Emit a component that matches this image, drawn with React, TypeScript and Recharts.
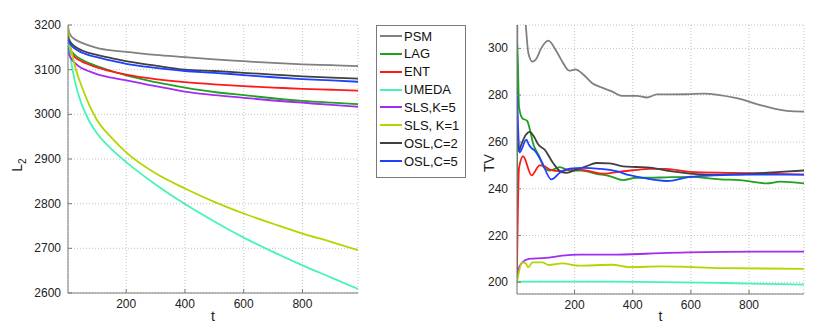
import React from "react"
import { LineChart, Line, XAxis, YAxis, CartesianGrid } from "recharts"

// ---- left panel: L2 error vs t (shared t grid) ----
const T_L2 = [2, 3, 5, 10, 25, 50, 75, 100, 150, 200, 300, 400, 500, 600, 700, 800, 900, 989]
const L2_PSM = [3198, 3193, 3186, 3178, 3168, 3160, 3154, 3149, 3143, 3140, 3133, 3128, 3123, 3119, 3115, 3112, 3110, 3108]
const L2_LAG = [3165, 3158, 3152, 3145, 3133, 3122, 3114, 3108, 3097, 3087, 3072, 3060, 3050, 3043, 3036, 3030, 3026, 3023]
const L2_ENT = [3160, 3153, 3146, 3140, 3128, 3118, 3111, 3105, 3096, 3089, 3079, 3072, 3067, 3063, 3060, 3057, 3055, 3053]
const L2_UMEDA = [3183, 3172, 3155, 3130, 3075, 3020, 2984, 2958, 2922, 2893, 2843, 2799, 2760, 2724, 2692, 2662, 2634, 2609]
const L2_SLS5 = [3150, 3143, 3136, 3128, 3115, 3103, 3096, 3090, 3082, 3076, 3063, 3051, 3043, 3037, 3031, 3026, 3021, 3017]
const L2_SLS1 = [3198, 3190, 3176, 3155, 3110, 3060, 3020, 2988, 2948, 2915, 2868, 2834, 2804, 2778, 2755, 2733, 2714, 2696]
const L2_OSL2 = [3175, 3172, 3168, 3162, 3152, 3143, 3137, 3133, 3126, 3119, 3109, 3100, 3097, 3093, 3089, 3085, 3082, 3080]
const L2_OSL5 = [3170, 3167, 3162, 3157, 3147, 3138, 3132, 3128, 3120, 3113, 3104, 3097, 3093, 3088, 3083, 3079, 3076, 3073]

// ---- right panel: TV vs t, [t, value] per series ----
const TV_PSM = [[2, 200], [4, 340], [20, 325], [32, 310], [41, 298], [55, 294.3], [68, 295.5], [85, 300], [110, 303.3], [135, 299.3], [158, 294.3], [181, 290.5], [204, 291], [226, 289.3], [261, 285.1], [295, 283.2], [330, 281.5], [364, 279.7], [414, 279.7], [449, 279], [483, 280.3], [586, 280.4], [643, 280.7], [758, 278.7], [850, 275.4], [930, 273.3], [989, 273]]
const TV_LAG = [[2, 200], [3, 302], [9, 275], [20, 270.2], [37, 269], [49, 263.8], [57, 259.5], [66, 256.7], [78, 254], [95, 249], [115, 247.8], [149, 249.2], [183, 247.8], [223, 247.8], [275, 246.4], [321, 245.4], [367, 243.7], [412, 244.7], [458, 244.7], [515, 244.9], [597, 245.1], [700, 244], [769, 243.7], [861, 242.3], [907, 243], [989, 242.3]]
const TV_ENT = [[2, 205], [9, 248.9], [23, 253.9], [52, 245.7], [80, 250], [97, 249.6], [115, 248.2], [149, 247.5], [195, 248.5], [252, 247.5], [298, 246.4], [344, 247.1], [401, 247.9], [458, 248.5], [515, 248.5], [597, 247.2], [735, 246.8], [861, 246.5], [989, 246]]
const TV_UMEDA = [[2, 200.3], [300, 200.3], [501, 200.1], [706, 199.7], [989, 199]]
const TV_SLS5 = [[2, 203], [4, 204.3], [20, 208.5], [43, 210], [100, 210.4], [158, 211.4], [215, 211.8], [330, 211.8], [444, 212.2], [501, 212.5], [592, 212.8], [821, 213.1], [989, 213.1]]
const TV_SLS1 = [[2, 200], [4, 201.4], [20, 208.5], [32, 208.1], [41, 206.4], [55, 208.5], [89, 208.5], [112, 207.4], [158, 208.1], [215, 207.1], [330, 207.5], [387, 206.5], [501, 206.8], [706, 206.1], [989, 205.7]]
const TV_OSL2 = [[2, 268], [8, 256], [17, 259], [32, 263], [46, 264.3], [63, 261.7], [74, 259.1], [97, 256.7], [126, 251], [155, 247.1], [172, 246.8], [206, 248.2], [240, 249.6], [275, 251], [321, 250.8], [367, 249.6], [412, 249.3], [460, 249], [529, 247.5], [597, 246.5], [666, 246], [735, 246.1], [803, 246.4], [895, 247.1], [989, 247.8]]
const TV_OSL5 = [[2, 282], [11, 255.5], [34, 261], [43, 258.8], [52, 257.4], [63, 256.3], [86, 251.8], [120, 244], [149, 246.8], [183, 248.6], [229, 248.9], [286, 248.5], [344, 247.5], [389, 245.8], [447, 244.4], [481, 243.7], [517, 243.3], [597, 245.1], [678, 245.7], [803, 246], [989, 246]]

const X_TICKS = [200, 400, 600, 800]
const L2_TICKS = [2600, 2700, 2800, 2900, 3000, 3100, 3200]
const TV_TICKS = [200, 220, 240, 260, 280, 300]

const SERIES = [
  { key: "PSM", name: "PSM", color: "#808080", l2: L2_PSM, tv: TV_PSM },
  { key: "LAG", name: "LAG", color: "#20a020", l2: L2_LAG, tv: TV_LAG },
  { key: "ENT", name: "ENT", color: "#ff1a1a", l2: L2_ENT, tv: TV_ENT },
  { key: "UMEDA", name: "UMEDA", color: "#45f5b5", l2: L2_UMEDA, tv: TV_UMEDA },
  { key: "SLS5", name: "SLS,K=5", color: "#a22cf0", l2: L2_SLS5, tv: TV_SLS5 },
  { key: "SLS1", name: "SLS, K=1", color: "#b5d400", l2: L2_SLS1, tv: TV_SLS1 },
  { key: "OSL2", name: "OSL,C=2", color: "#404040", l2: L2_OSL2, tv: TV_OSL2 },
  { key: "OSL5", name: "OSL,C=5", color: "#2040ff", l2: L2_OSL5, tv: TV_OSL5 },
]

const l2Data = T_L2.map((t, i) => {
  const row: Record<string, number> = { t }
  SERIES.forEach((s) => (row[s.key] = s.l2[i]))
  return row
})

const FRAME = "#7a7a7a"
const FONT = "'Liberation Sans', Arial, Helvetica, sans-serif"
const X_DOMAIN = [2, 989]

// matlab-style inward ticks
const BottomTick = ({ x, y, payload }: any) => (
  <g>
    <line x1={x} x2={x} y1={y} y2={y - 4} stroke={FRAME} />
    <text x={x} y={y + 15} textAnchor="middle" fontSize={12} fill="#222" fontFamily={FONT}>
      {payload.value}
    </text>
  </g>
)
const TopTick = ({ x, y }: any) => <line x1={x} x2={x} y1={y} y2={y + 4} stroke={FRAME} />
const leftTick = (gap: number) => ({ x, y, payload }: any) => (
  <g>
    <line x1={x} x2={x + 4} y1={y} y2={y} stroke={FRAME} />
    <text x={x - gap} y={y + 4} textAnchor="end" fontSize={12} fill="#222" fontFamily={FONT}>
      {payload.value}
    </text>
  </g>
)
const RightTick = ({ x, y }: any) => <line x1={x} x2={x - 4} y1={y} y2={y} stroke={FRAME} />

export default function App() {
  return (
    <div style={{ position: "absolute", left: 0, top: 0, width: 830, height: 332, background: "#fff", fontFamily: FONT }}>
      {/* left: L2 */}
      <div style={{ position: "absolute", left: 0, top: 0 }}>
        <LineChart width={370} height={332} data={l2Data} margin={{ top: 25, right: 12, bottom: 0, left: 8 }}>
          <CartesianGrid stroke="#c4c4c4" strokeDasharray="1 2" />
          <XAxis dataKey="t" type="number" domain={X_DOMAIN} ticks={X_TICKS} allowDataOverflow height={39}
            axisLine={{ stroke: FRAME }} tickLine={false} tickSize={0} tickMargin={0} tick={BottomTick} />
          <XAxis xAxisId="top" orientation="top" type="number" domain={X_DOMAIN} ticks={X_TICKS} allowDataOverflow height={0}
            axisLine={{ stroke: FRAME }} tickLine={false} tickSize={0} tickMargin={0} tick={TopTick} />
          <YAxis type="number" domain={[2600, 3200]} ticks={L2_TICKS} allowDataOverflow width={60}
            axisLine={{ stroke: FRAME }} tickLine={false} tickSize={0} tickMargin={0} tick={leftTick(7)} />
          <YAxis yAxisId="right" orientation="right" type="number" domain={[2600, 3200]} ticks={L2_TICKS} allowDataOverflow width={0}
            axisLine={{ stroke: FRAME }} tickLine={false} tickSize={0} tickMargin={0} tick={RightTick} />
          {SERIES.map((s) => (
            <Line key={s.key} dataKey={s.key} type="monotone" stroke={s.color} strokeWidth={1.8} dot={false} isAnimationActive={false} />
          ))}
        </LineChart>
      </div>

      {/* right: TV */}
      <div style={{ position: "absolute", left: 470, top: 0 }}>
        <LineChart width={345} height={332} margin={{ top: 25, right: 11, bottom: 0, left: 7 }}>
          <CartesianGrid stroke="#c4c4c4" strokeDasharray="1 2" />
          <XAxis dataKey="t" type="number" domain={X_DOMAIN} ticks={X_TICKS} allowDataOverflow height={38}
            axisLine={{ stroke: FRAME }} tickLine={false} tickSize={0} tickMargin={0} tick={BottomTick} />
          <XAxis xAxisId="top" orientation="top" type="number" domain={X_DOMAIN} ticks={X_TICKS} allowDataOverflow height={0}
            axisLine={{ stroke: FRAME }} tickLine={false} tickSize={0} tickMargin={0} tick={TopTick} />
          <YAxis type="number" domain={[195, 310]} ticks={TV_TICKS} allowDataOverflow width={40}
            axisLine={{ stroke: FRAME }} tickLine={false} tickSize={0} tickMargin={0} tick={leftTick(9)} />
          <YAxis yAxisId="right" orientation="right" type="number" domain={[195, 310]} ticks={TV_TICKS} allowDataOverflow width={0}
            axisLine={{ stroke: FRAME }} tickLine={false} tickSize={0} tickMargin={0} tick={RightTick} />
          {SERIES.map((s) => (
            <Line key={s.key} data={s.tv.map(([t, v]) => ({ t, v }))} dataKey="v" type="monotone" stroke={s.color}
              strokeWidth={1.8} dot={false} isAnimationActive={false} />
          ))}
        </LineChart>
      </div>

      {/* legend */}
      <div style={{ position: "absolute", left: 376, top: 25, width: 88, height: 151, border: `1px solid ${FRAME}`, background: "#fff" }}>
        {SERIES.map((s, i) => (
          <div key={s.key} style={{ position: "absolute", left: 3, top: 1 + i * 17.86, height: 18, display: "flex", alignItems: "center", whiteSpace: "nowrap" }}>
            <span style={{ display: "inline-block", width: 22, height: 0, borderTop: `2px solid ${s.color}`, marginRight: 2 }} />
            <span style={{ fontSize: 13, color: "#111" }}>{s.name}</span>
          </div>
        ))}
      </div>

      {/* axis titles */}
      <svg width={830} height={332} style={{ position: "absolute", left: 0, top: 0, pointerEvents: "none" }}>
        <text transform="translate(21.5,165) rotate(-90)" textAnchor="middle" fontSize={14} fill="#222" fontFamily={FONT}>
          L<tspan fontSize={10} dy={4}>2</tspan>
        </text>
        <text transform="translate(494,163) rotate(-90)" textAnchor="middle" fontSize={14} fill="#222" fontFamily={FONT}>TV</text>
        <text x={213} y={320.5} textAnchor="middle" fontSize={14} fill="#222" fontFamily={FONT}>t</text>
        <text x={660.5} y={320.5} textAnchor="middle" fontSize={14} fill="#222" fontFamily={FONT}>t</text>
      </svg>
    </div>
  )
}
